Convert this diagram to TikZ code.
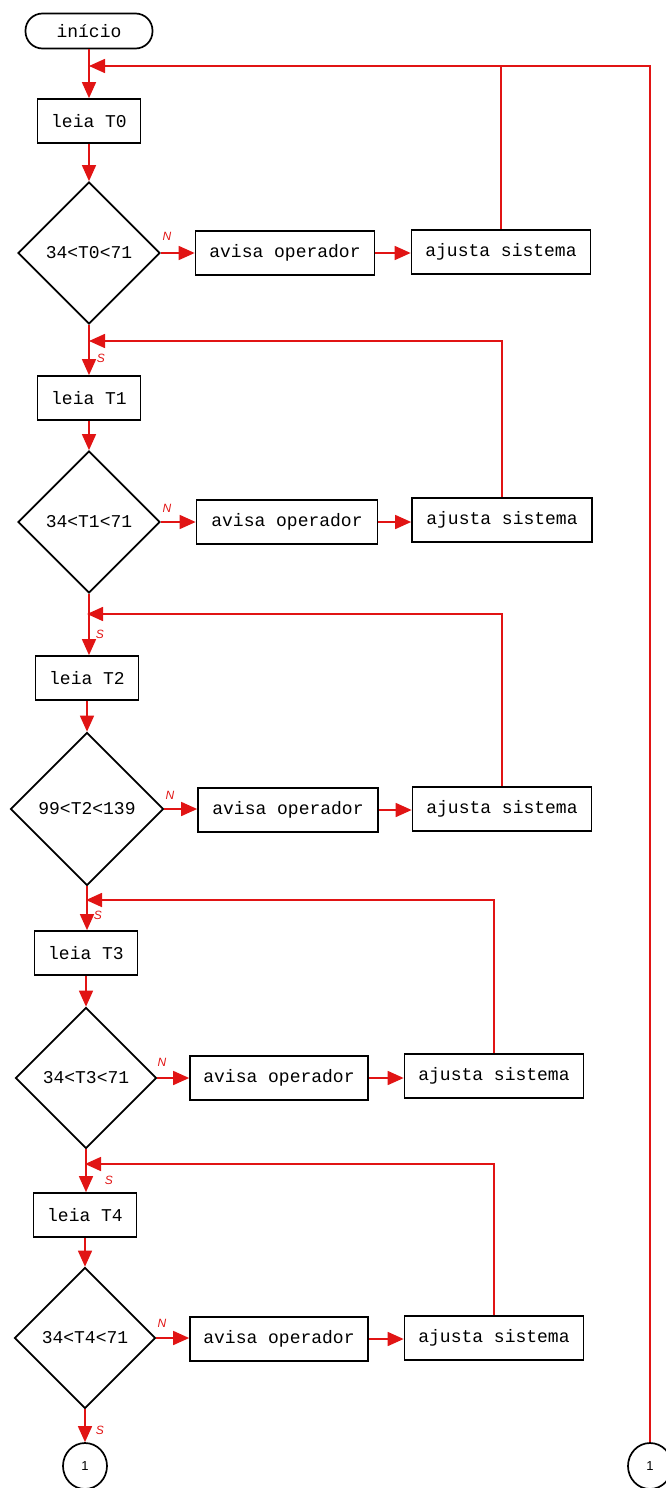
\documentclass[tikz,border=0pt]{standalone}
\usepackage{fontspec}
\setmainfont{Liberation Sans}
\newfontfamily\boxfont{Liberation Mono}
\usetikzlibrary{shapes.geometric,arrows.meta}
\definecolor{flowred}{RGB}{225,20,20}

\tikzset{
  flow/.style={draw=black, line width=1.7pt, fill=white, inner sep=0pt,
    font=\boxfont\fontsize{18}{21}\selectfont},
  terminal/.style={flow, rectangle, rounded corners=17pt, minimum width=127, minimum height=35},
  procbox/.style={flow, rectangle, minimum width=#1, minimum height=44},
  decision/.style={flow, diamond, minimum width=#1, minimum height=#1},
  connector/.style={flow, ellipse, minimum width=44, minimum height=46,
    font=\fontsize{13}{15}\selectfont},
  link/.style={draw=flowred, line width=1.6pt},
  arr/.style={link, -{Triangle[length=16pt,width=14pt,fill=flowred]}},
  branchlbl/.style={text=flowred, font=\itshape\fontsize{12}{14}\selectfont, inner sep=0pt},
}

\begin{document}
\begin{tikzpicture}[x=1pt, y=-1pt]
\useasboundingbox (0,0) rectangle (666,1488);

% start terminal
\node[terminal] (ini) at (89,31) {início};

% row 0
\node[procbox=103] (l0) at (89,121) {leia T0};
\node[decision=142] (d0) at (89,253) {34<T0<71};
\node[procbox=179] (a0) at (285,253) {avisa operador};
\node[procbox=179] (s0) at (501,252) {ajusta sistema};

% row 1
\node[procbox=103] (l1) at (89,398) {leia T1};
\node[decision=142] (d1) at (89,522) {34<T1<71};
\node[procbox=181] (a1) at (287,522) {avisa operador};
\node[procbox=180] (s1) at (502,520) {ajusta sistema};

% row 2
\node[procbox=103] (l2) at (87,678) {leia T2};
\node[decision=153] (d2) at (87,809) {99<T2<139};
\node[procbox=180] (a2) at (288,810) {avisa operador};
\node[procbox=179] (s2) at (502,809) {ajusta sistema};

% row 3
\node[procbox=103] (l3) at (86,953) {leia T3};
\node[decision=141] (d3) at (86,1078) {34<T3<71};
\node[procbox=178] (a3) at (279,1078) {avisa operador};
\node[procbox=179] (s3) at (494,1076) {ajusta sistema};

% row 4
\node[procbox=103] (l4) at (85,1215) {leia T4};
\node[decision=141] (d4) at (85,1338) {34<T4<71};
\node[procbox=178] (a4) at (279,1339) {avisa operador};
\node[procbox=179] (s4) at (494,1338) {ajusta sistema};

% off-page connectors
\node[connector] (c1) at (85,1466) {1};
\node[connector] (c2) at (650,1466) {1};

% junctions where the retry loops rejoin the main line
\coordinate (j0) at (89,66);
\coordinate (j1) at (89,341);
\coordinate (j2) at (87,614);
\coordinate (j3) at (86,900);
\coordinate (j4) at (85,1164);

% main flow
\draw[arr] (ini.south) -- (l0.north);
\draw[arr] (l0.south) -- (d0.north);
\draw[arr] (d0.south) -- (d0.south |- l1.north);
\draw[arr] (l1.south) -- (d1.north);
\draw[arr] (d1.south) -- (d1.south |- l2.north);
\draw[arr] (l2.south) -- (d2.north);
\draw[arr] (d2.south) -- (d2.south |- l3.north);
\draw[arr] (l3.south) -- (d3.north);
\draw[arr] (d3.south) -- (d3.south |- l4.north);
\draw[arr] (l4.south) -- (d4.north);
\draw[arr] (d4.south) -- (d4.south |- c1.north);

% "no" branches
\foreach \i in {0,...,4} {
  \draw[arr] (d\i.east) -- (d\i.east -| a\i.west);
  \draw[arr] (a\i.east) -- (a\i.east -| s\i.west);
}

% retry loops
\draw[arr] (c2.north) |- (j0);
\draw[link] (s0.north) -- (s0.north |- j0);
\draw[arr] (s1.north) |- (j1);
\draw[arr] (s2.north) |- (j2);
\draw[arr] (s3.north) |- (j3);
\draw[arr] (s4.north) |- (j4);

% branch labels
\node[branchlbl] (n0) at (167,236) {N};
\node[branchlbl] (n1) at (167,508) {N};
\node[branchlbl] (n2) at (170,795) {N};
\node[branchlbl] (n3) at (162,1062) {N};
\node[branchlbl] (n4) at (162,1323) {N};
\node[branchlbl] (y0) at (101,358) {S};
\node[branchlbl] (y1) at (100,634) {S};
\node[branchlbl] (y2) at (98,915) {S};
\node[branchlbl] (y3) at (109,1180) {S};
\node[branchlbl] (y4) at (100,1430) {S};
\end{tikzpicture}
\end{document}
